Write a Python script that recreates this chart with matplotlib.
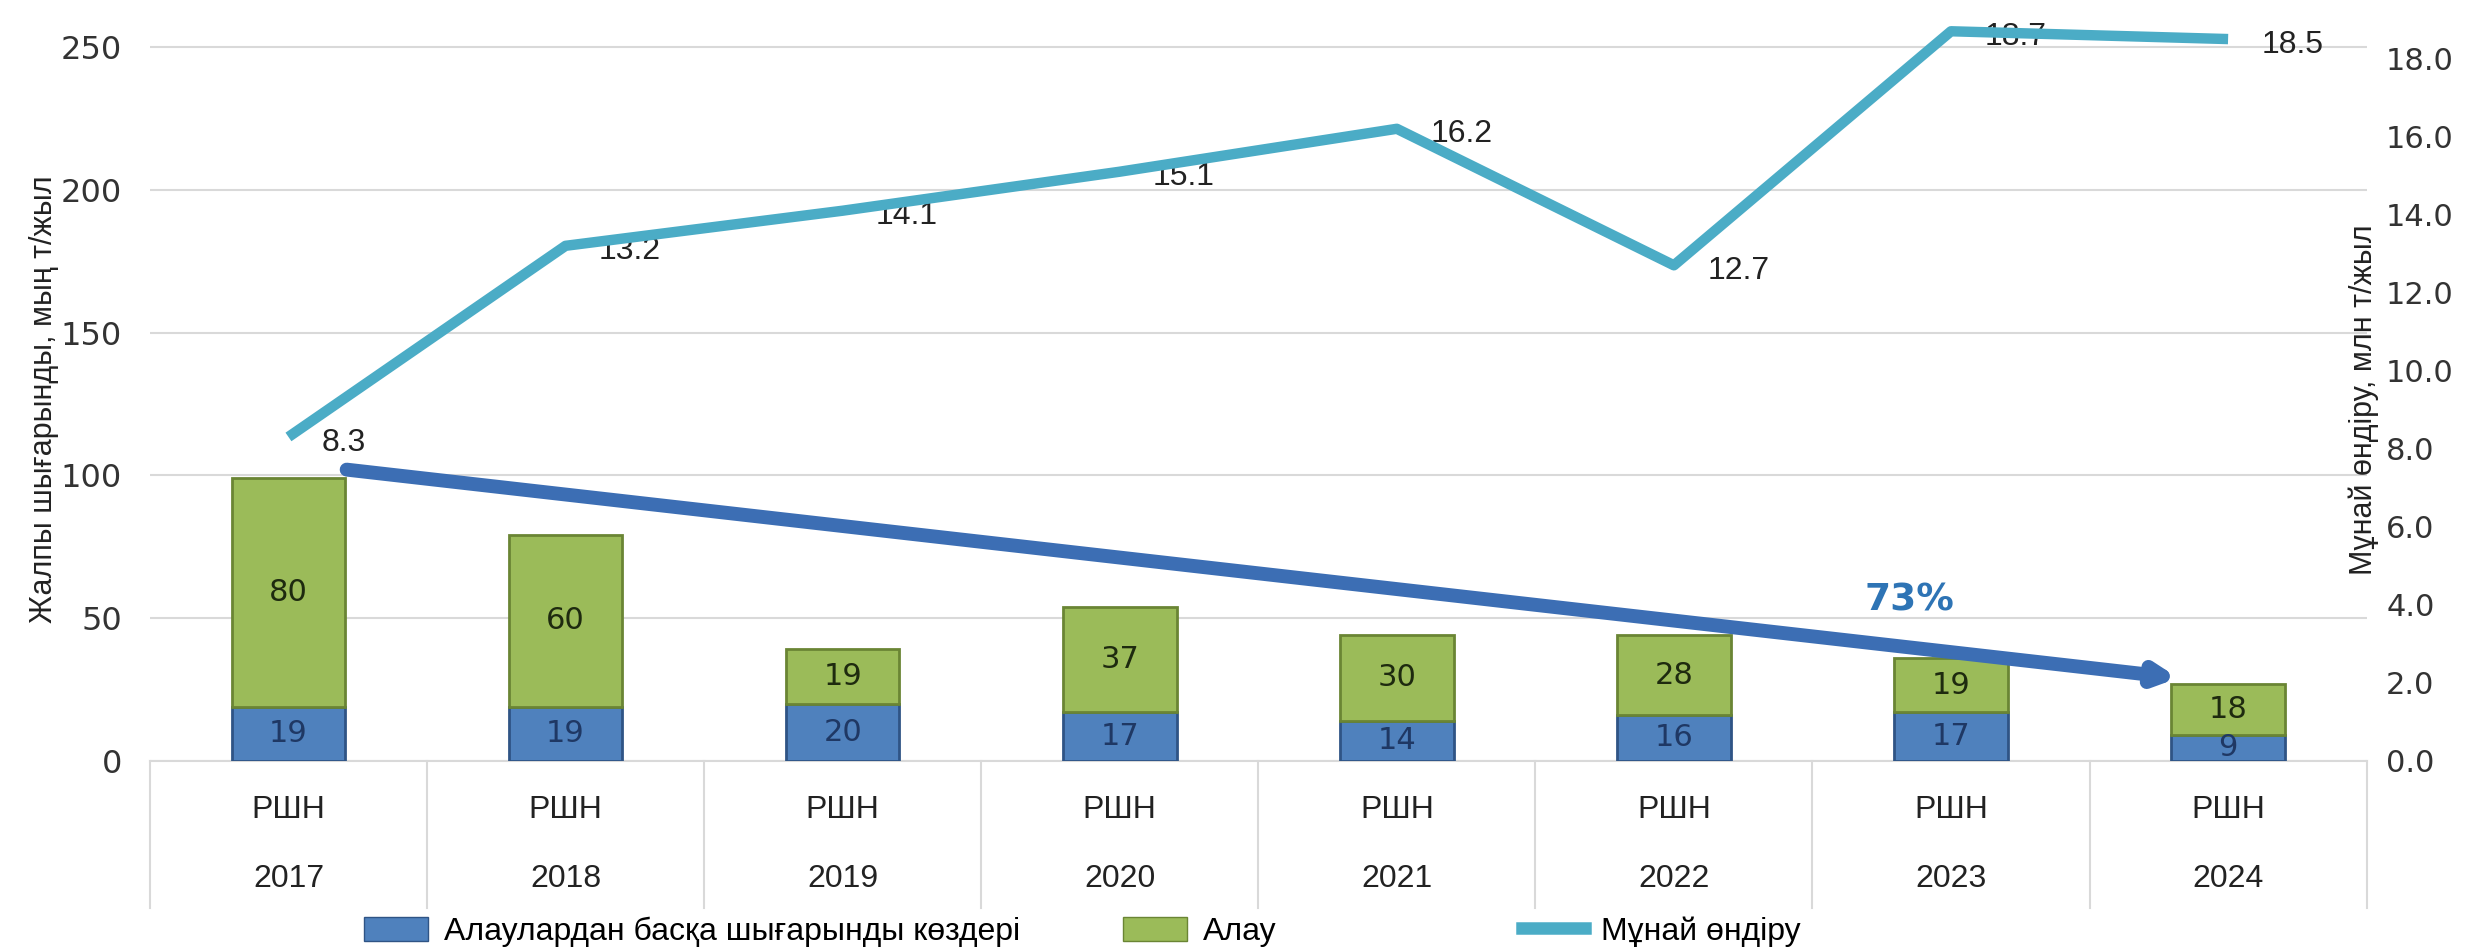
import matplotlib.pyplot as plt
import numpy as np
from matplotlib.patches import Patch
from matplotlib.lines import Line2D

years = ['2017', '2018', '2019', '2020', '2021', '2022', '2023', '2024']
group = 'РШН'
other_sources = [19, 19, 20, 17, 14, 16, 17, 9]
flaring = [80, 60, 19, 37, 30, 28, 19, 18]
oil_prod = [8.3, 13.2, 14.1, 15.1, 16.2, 12.7, 18.7, 18.5]
decline_label = '73%'

blue = '#4f81bd'
green = '#9bbb59'
teal = '#4bacc6'
narrow = ['Liberation Sans Narrow', 'Liberation Sans', 'DejaVu Sans']

fig = plt.figure(figsize=(24.74, 9.47), dpi=100)
ax = fig.add_axes([0.0606, 0.1967, 0.8960, 0.795])
x = np.arange(len(years))

b1 = ax.bar(x, other_sources, width=0.41, color=blue, edgecolor='#2f5485', linewidth=2, zorder=3)
b2 = ax.bar(x, flaring, width=0.41, bottom=other_sources, color=green, edgecolor='#6a8534', linewidth=2, zorder=3)
for xi, v in zip(x, other_sources):
    ax.text(xi, v / 2, str(v), ha='center', va='center', fontsize=22, color='#1f3864', zorder=4)
for xi, b, v in zip(x, other_sources, flaring):
    ax.text(xi, b + v / 2, str(v), ha='center', va='center', fontsize=22, color='#1e2a0f', zorder=4)

ax.set_xlim(-0.5, len(years) - 0.5)
ax.set_ylim(0, 263.8)
ax.set_yticks([0, 50, 100, 150, 200, 250])
ax.tick_params(axis='y', length=0, labelsize=23, pad=20, colors='#333333')
ax.set_xticks([])
ax.grid(axis='y', color='#d9d9d9', linewidth=1.5, zorder=0)
ax.set_axisbelow(True)
for s in ['top', 'right', 'left']:
    ax.spines[s].set_visible(False)
ax.spines['bottom'].set_color('#d9d9d9')
ax.spines['bottom'].set_linewidth(1.5)

# category table below the axis
tr = ax.get_xaxis_transform()
for k in range(len(years) + 1):
    ax.plot([k - 0.5, k - 0.5], [0, -0.195], transform=tr, color='#d9d9d9', lw=1.5, clip_on=False)
for xi, yr in zip(x, years):
    ax.text(xi, -0.065, group, transform=tr, ha='center', va='center', fontsize=23, family=narrow, color='#222222')
    ax.text(xi, -0.157, yr, transform=tr, ha='center', va='center', fontsize=23, family=narrow, color='#222222')

ax.text(-0.048, 0.48, 'Жалпы шығарынды, мың т/жыл', transform=ax.transAxes, rotation=90,
        ha='center', va='center', fontsize=22, family=narrow, color='#222222')

# decline arrow
totals = [a + b for a, b in zip(other_sources, flaring)]
ax.annotate('', xy=(x[-1] - 0.18, totals[-1] + 2), xytext=(x[0] + 0.21, totals[0] + 3),
            arrowprops=dict(arrowstyle='-|>,head_length=1.1,head_width=0.55', color='#3c6eb4', lw=10,
                            shrinkA=0, shrinkB=0),
            zorder=5)
ax.text(5.85, 56, decline_label, ha='center', va='center', fontsize=27, fontweight='bold', color='#2e74b5', zorder=5)

# oil production on the right axis
ax2 = ax.twinx()
ax2.plot(x, oil_prod, color=teal, lw=7.5, zorder=6, solid_capstyle='butt')
for xi, v in zip(x, oil_prod):
    ax2.annotate(f'{v:.1f}', (xi, v), xytext=(24, -4), textcoords='offset points',
                 ha='left', va='center', fontsize=23, family=['Liberation Sans', 'DejaVu Sans'], color='#222222')
ax2.set_ylim(0, 19.3)
ax2.set_yticks(np.arange(0, 19, 2))
ax2.set_yticklabels([f'{t:.1f}' for t in np.arange(0, 19, 2)])
ax2.tick_params(axis='y', length=0, labelsize=22, pad=14, colors='#333333')
for s in ax2.spines.values():
    s.set_visible(False)
ax2.text(0.9985, 0.48, 'Мұнай өндіру, млн т/жыл', transform=ax2.transAxes, rotation=90,
         ha='center', va='center', fontsize=22, family=narrow, color='#222222')

# legend
leg_font = {'family': narrow, 'size': 23}
h1 = Patch(facecolor=blue, edgecolor='#2f5485')
h2 = Patch(facecolor=green, edgecolor='#6a8534')
h3 = Line2D([0], [0], color=teal, lw=9)
for h, lab, xpos in [(h1, 'Алаулардан басқа шығарынды көздері', 0.147),
                     (h2, 'Алау', 0.454),
                     (h3, 'Мұнай өндіру', 0.615)]:
    fig.legend([h], [lab], loc='center left', bbox_to_anchor=(xpos, 0.016), frameon=False,
               prop=leg_font, handlelength=2.0, handleheight=0.8, handletextpad=0.5,
               borderaxespad=0, borderpad=0)

plt.savefig('out.png', dpi=100)
